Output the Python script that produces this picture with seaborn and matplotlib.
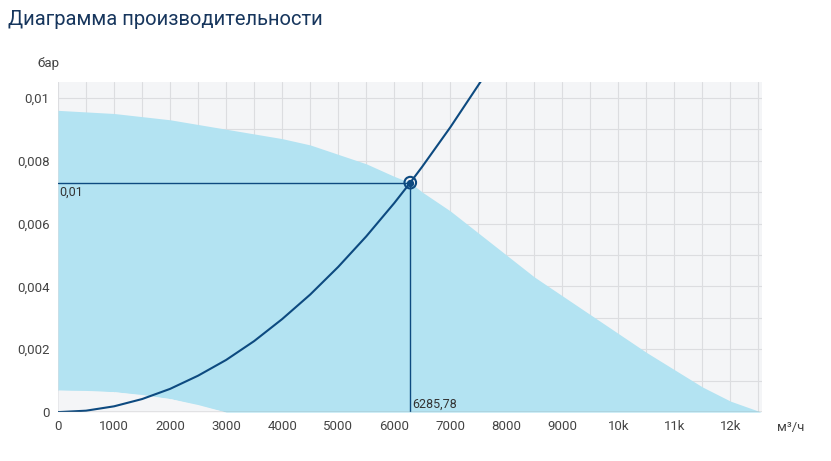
import matplotlib
matplotlib.use("Agg")
import matplotlib.pyplot as plt
import seaborn as sns
import numpy as np
from matplotlib.ticker import FuncFormatter, MultipleLocator

sns.set_theme(style="white")
plt.rcParams['font.family'] = ['Roboto', 'DejaVu Sans']

band_x = [0, 1000, 2000, 3000, 4000, 4500, 5000, 5500, 6000, 6285.78, 6500, 7000, 7500, 8000, 8500, 9000,
          9500, 10000, 10500, 11000, 11500, 12000, 12550]
band_top = [0.0096, 0.0095, 0.0093, 0.0090, 0.0087, 0.0085, 0.0082, 0.0079, 0.0075, 0.0073, 0.0070, 0.0064,
            0.0057, 0.0050, 0.0043, 0.0037, 0.0031, 0.0025, 0.0019, 0.00135, 0.0008, 0.00035, 0.0]
low_x = [0, 500, 1000, 1500, 2000, 2500, 3000, 12550]
low_y = [0.0007, 0.00069, 0.00065, 0.00056, 0.00043, 0.00024, 0.0, 0.0]

sys_x = [0, 500, 1000, 1500, 2000, 2500, 3000, 3500, 4000, 4500, 5000, 5500, 6000, 6285.78, 6500, 7000, 7500, 7560]
sys_y = [0, 0.000046, 0.000185, 0.000416, 0.00074, 0.00116, 0.00166, 0.00226, 0.00296, 0.00374,
         0.00462, 0.00559, 0.00665, 0.0073, 0.00781, 0.00906, 0.0104, 0.01056]

op_x, op_y = 6285.78, 0.0073
x_ticks = [0, 1000, 2000, 3000, 4000, 5000, 6000, 7000, 8000, 9000, 10000, 11000, 12000]
x_labels = ["0", "1000", "2000", "3000", "4000", "5000", "6000", "7000", "8000", "9000", "10k", "11k", "12k"]

fig = plt.figure(figsize=(8.31, 4.61), dpi=100)
ax = fig.add_axes([0.0698, 0.106, 0.847, 0.716])
ax.set_facecolor("#f4f5f7")
lx = np.interp(band_x, low_x, low_y)
ax.fill_between(band_x, lx, band_top, color="#b3e3f2", lw=0, zorder=2)
ax.fill_between(low_x, 0, low_y, color="#f4f5f7", lw=0, zorder=2.5)
sns.lineplot(x=sys_x, y=sys_y, ax=ax, color="#0d4a80", lw=1.5, zorder=4, sort=False)
ax.plot([0, op_x], [op_y, op_y], color="#0d4a80", lw=1, zorder=3)
ax.plot([op_x, op_x], [0, op_y], color="#0d4a80", lw=1, zorder=3)
ax.scatter([op_x], [op_y], s=70, facecolor="none", edgecolor="#0d4a80", lw=1.5, zorder=5)
ax.scatter([op_x], [op_y], s=18, color="#0d4a80", zorder=5)
ax.text(30, op_y - 0.0001, "0,01", fontsize=9, color="#333", va="top", zorder=6)
ax.text(op_x + 40, 0.00005, "6285,78", fontsize=9, color="#333", va="bottom", zorder=6)

ax.set_xlim(0, 12560)
ax.set_ylim(0, 0.0105)
ax.set_xticks(x_ticks)
ax.set_xticklabels(x_labels)
ax.yaxis.set_major_locator(MultipleLocator(0.002))
ax.yaxis.set_major_formatter(FuncFormatter(
    lambda v, p: "0" if abs(v) < 1e-12 else f"{v:.3f}".rstrip("0").replace(".", ",")))
ax.set_xticks(np.arange(500, 12560, 1000), minor=True)
ax.set_yticks(np.arange(0.001, 0.0105, 0.002), minor=True)
ax.grid(True, which="both", color="#dcdde0", lw=0.8, zorder=0)
ax.set_axisbelow(True)
for s in ax.spines.values():
    s.set_visible(False)
ax.axhline(0, color="#999", lw=1, zorder=6)
ax.tick_params(axis="both", labelsize=9.5, colors="#444", length=0, pad=6)
ax.tick_params(which="minor", length=0)
fig.text(0.045, 0.855, "бар", fontsize=9.5, color="#444")
fig.text(0.935, 0.065, "м³/ч", fontsize=9.5, color="#444")
fig.text(0.01, 0.945, "Диаграмма производительности", fontsize=14.5, color="#17365d")
fig.savefig("out.png", dpi=100)
